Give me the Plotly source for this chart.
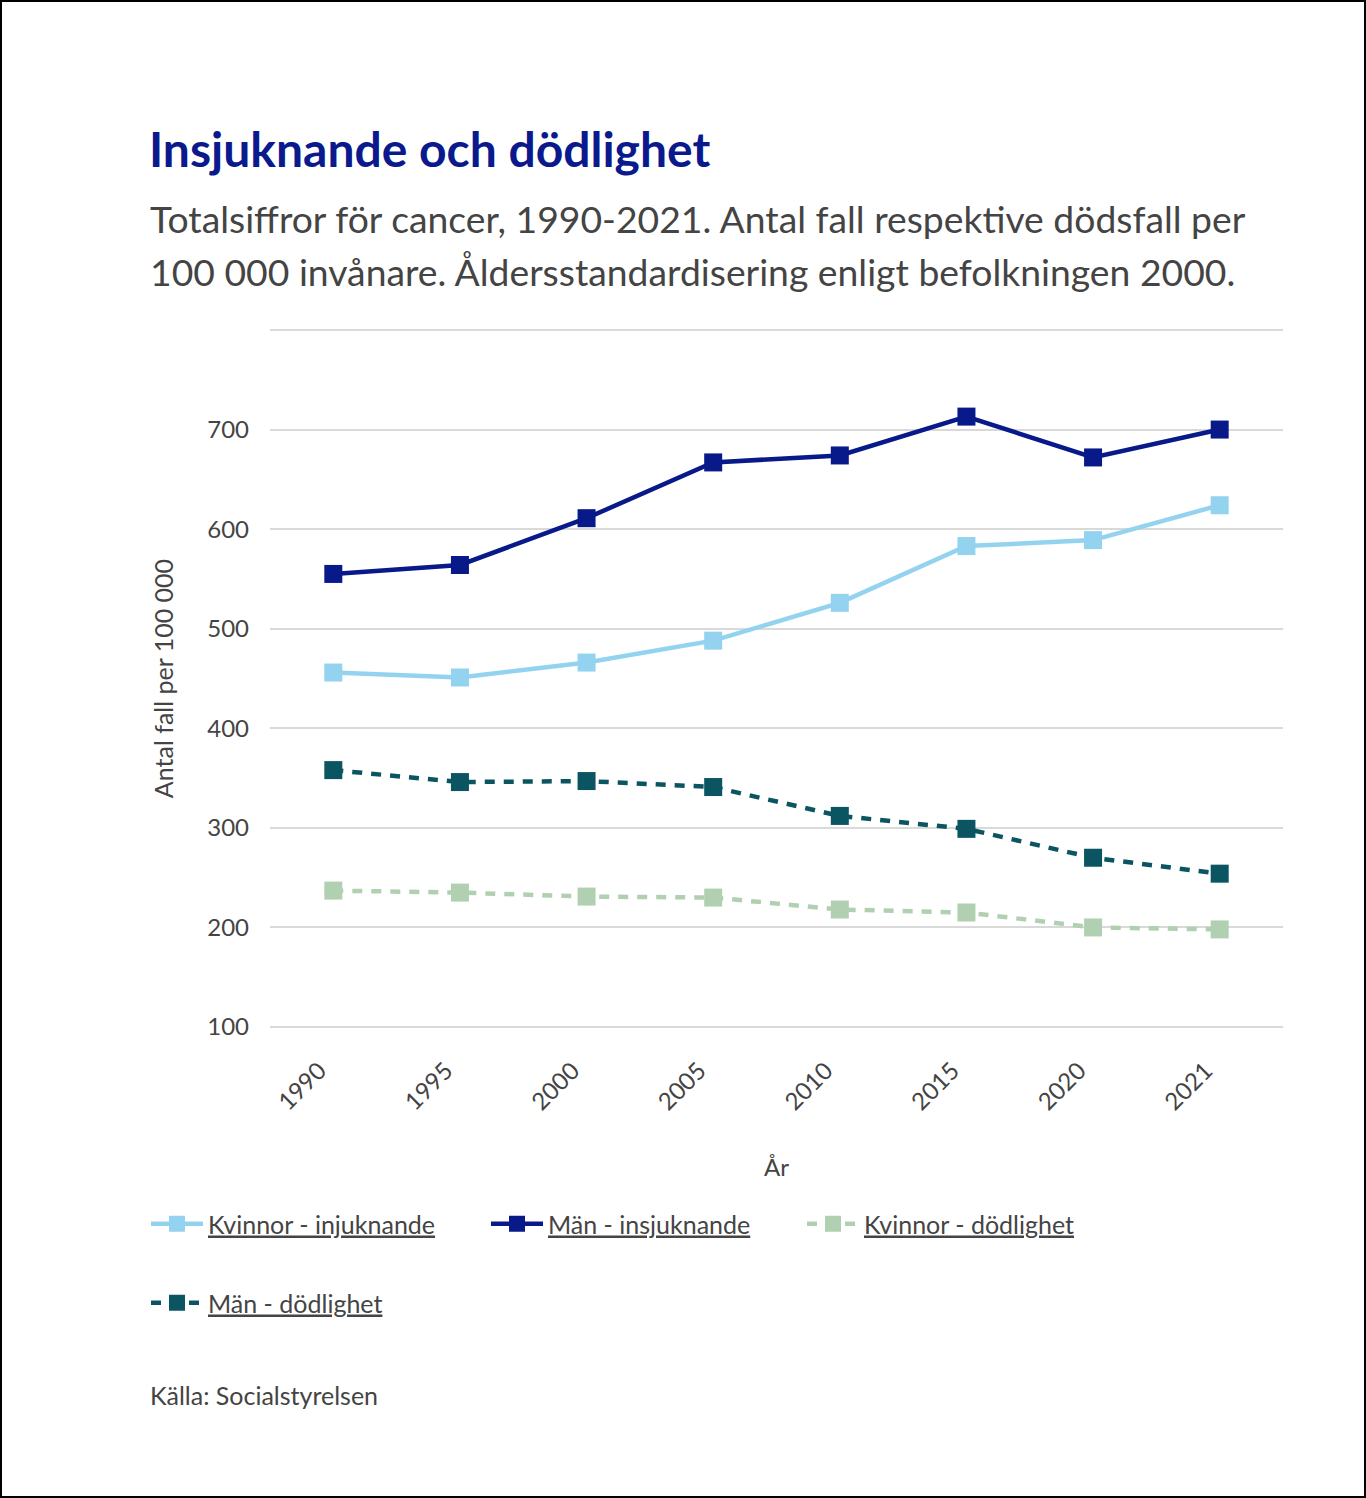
import plotly.graph_objects as go

years = ["1990", "1995", "2000", "2005", "2010", "2015", "2020", "2021"]
kvinnor_insj = [456, 451, 466, 488, 526, 583, 589, 624]
man_insj = [555, 564, 611, 667, 674, 713, 672, 700]
kvinnor_dod = [237, 235, 231, 230, 218, 215, 200, 198]
man_dod = [358, 346, 347, 341, 312, 299, 270, 254]
y_ticks = [100, 200, 300, 400, 500, 600, 700, 800]
y_ticktext = ["100", "200", "300", "400", "500", "600", "700", ""]

W, H = 1366, 1498
L, R, T, B = 270, 1283, 326, 1031
FONT = "Lato"
TXT = "#444444"

def px(x):
    return (x - L) / (R - L)

def py(y):
    return (B - y) / (B - T)

fig = go.Figure()
series = [
    ("<u>Kvinnor - injuknande</u>", kvinnor_insj, "#94d3ef", "solid", "legend", 146),
    ("<u>Män - insjuknande</u>", man_insj, "#08198a", "solid", "legend2", 486),
    ("<u>Kvinnor - dödlighet</u>", kvinnor_dod, "#b1d0b1", "dash", "legend3", 802),
    ("<u>Män - dödlighet</u>", man_dod, "#0b5461", "dash", "legend4", 146),
]
for name, vals, col, dash, leg, _ in series:
    fig.add_trace(go.Scatter(
        x=years, y=vals, name=name, mode="lines+markers",
        line=dict(color=col, width=4.5, dash="10px,9px" if dash == "dash" else "solid"),
        marker=dict(symbol="square", size=18, color=col),
        legend=leg,
    ))

legends = {}
for name, vals, col, dash, leg, lx in series:
    ly = 1303 if leg == "legend4" else 1224
    legends[leg] = dict(
        orientation="h", x=px(lx), y=py(ly), xanchor="left", yanchor="middle",
        font=dict(size=25, color=TXT), itemwidth=52,
        bgcolor="rgba(0,0,0,0)",
    )

fig.update_layout(
    width=W, height=H,
    margin=dict(l=L, r=W - R, t=T, b=H - B, autoexpand=False),
    paper_bgcolor="white", plot_bgcolor="white",
    font=dict(family=FONT, color=TXT, size=24),
    xaxis=dict(
        type="category", range=[-0.5, 7.5], showgrid=False, zeroline=False,
        showline=False, ticks="", tickangle=-45,
        ticklabelstandoff=20, ticklabelshift=-14,
        tickfont=dict(size=24, color=TXT),
        title=dict(text="År", font=dict(size=24, color=TXT), standoff=44),
    ),
    yaxis=dict(
        range=[96, 804], tickvals=y_ticks, ticktext=y_ticktext,
        showgrid=True, gridcolor="#d9d9d9", gridwidth=1.5, zeroline=False,
        showline=False, ticks="", ticklabelstandoff=20,
        tickfont=dict(size=24, color=TXT),
        title=dict(text="Antal fall per 100 000", font=dict(size=25, color=TXT), standoff=26),
    ),
    showlegend=True,
    **legends,
)

fig.add_annotation(
    text="<b>Insjuknande och dödlighet</b>", xref="paper", yref="paper",
    x=px(147), y=py(148), xanchor="left", yanchor="middle", showarrow=False,
    font=dict(family=FONT, size=48, color="#0a1a8c"),
)
for txt, yy in [
    ("Totalsiffror för cancer, 1990-2021. Antal fall respektive dödsfall per", 218),
    ("100 000 invånare. Åldersstandardisering enligt befolkningen 2000.", 272),
]:
    fig.add_annotation(
        text=txt, xref="paper", yref="paper", x=px(148), y=py(yy),
        xanchor="left", yanchor="middle", align="left", showarrow=False,
        font=dict(family=FONT, size=37.3, color=TXT),
    )
fig.add_annotation(
    text="Källa: Socialstyrelsen", xref="paper", yref="paper",
    x=px(148), y=py(1395), xanchor="left", yanchor="middle", showarrow=False,
    font=dict(family=FONT, size=25, color=TXT),
)
fig.add_shape(
    type="rect", xref="paper", yref="paper",
    x0=px(1), x1=px(W - 1), y0=py(1), y1=py(H - 1),
    line=dict(color="black", width=2), fillcolor="rgba(0,0,0,0)", layer="above",
)

fig.write_html(
    "out.html",
    config={"displayModeBar": False},
    post_script="document.body.style.margin='0';document.body.style.overflow='hidden';",
)
